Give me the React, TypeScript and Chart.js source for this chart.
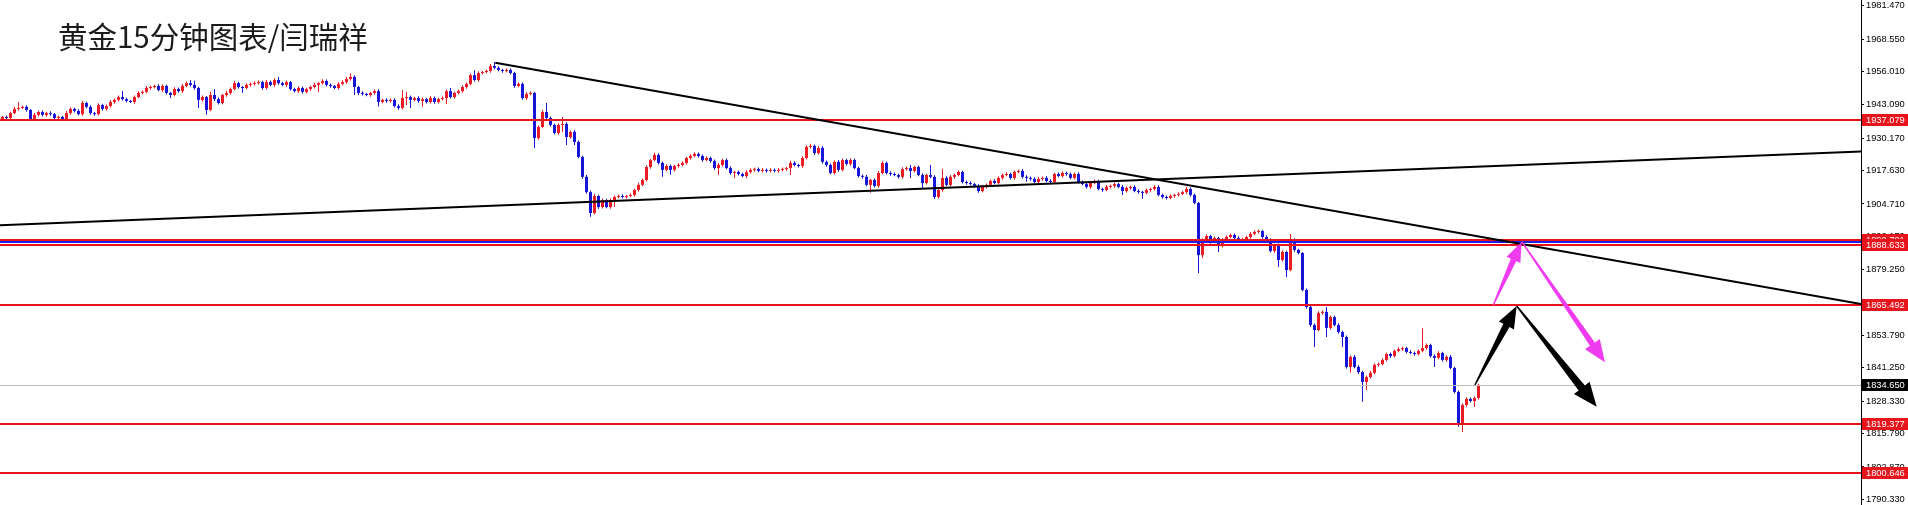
import React, { useEffect, useRef } from 'react';
import { Chart, registerables } from 'chart.js';

Chart.register(...registerables);

const TITLE = '黄金15分钟图表/闫瑞祥';

// ---- candle data (15-minute gold) ----
const FIRST_OPEN = 1937.6;
const CLOSES = [
  1938.4,1938.0,1939.9,1941.5,1941.9,1942.3,1941.1,1937.6,1939.2,1940.3,
  1939.2,1939.9,1939.5,1938.0,1938.4,1937.6,1939.9,1941.5,1940.7,1939.5,
  1943.8,1942.3,1939.9,1939.5,1943.0,1941.5,1942.6,1944.2,1945.0,1946.1,
  1945.3,1944.6,1944.2,1946.1,1947.7,1948.1,1949.6,1950.0,1950.4,1948.8,
  1950.4,1947.7,1946.9,1949.2,1948.4,1950.4,1951.5,1950.8,1949.6,1945.0,
  1946.1,1941.1,1946.9,1945.3,1943.8,1946.9,1947.7,1949.2,1951.5,1950.0,
  1949.6,1950.8,1951.2,1951.5,1951.9,1949.6,1951.9,1950.8,1952.7,1951.5,
  1950.8,1951.9,1949.2,1948.4,1949.6,1948.1,1949.2,1950.0,1950.8,1951.5,
  1952.3,1950.8,1950.4,1949.6,1951.2,1951.9,1953.1,1953.9,1950.0,1947.7,
  1947.3,1946.9,1947.7,1948.4,1944.2,1945.0,1944.6,1945.0,1942.6,1941.9,
  1945.7,1946.1,1945.0,1945.7,1944.6,1945.3,1944.2,1945.7,1944.2,1945.3,
  1945.7,1948.4,1946.1,1947.7,1948.4,1950.0,1951.2,1954.6,1952.7,1955.4,
  1955.8,1956.2,1958.1,1957.4,1956.6,1956.2,1956.6,1955.4,1950.4,1951.2,
  1945.7,1947.3,1947.7,1930.2,1934.5,1940.3,1938.0,1935.3,1932.2,1935.3,
  1935.7,1930.6,1932.6,1928.7,1922.9,1915.2,1909.3,1901.2,1907.8,1903.5,
  1906.2,1903.5,1906.2,1907.4,1907.8,1907.4,1907.8,1908.2,1910.1,1912.1,
  1914.0,1919.0,1921.7,1923.7,1920.6,1917.9,1919.4,1917.9,1919.4,1919.8,
  1920.6,1922.5,1923.3,1924.1,1923.3,1921.7,1922.5,1921.3,1918.6,1919.8,
  1921.7,1918.6,1916.7,1917.1,1916.3,1915.5,1917.1,1917.9,1918.2,1917.5,
  1917.9,1917.5,1917.9,1917.5,1917.9,1918.2,1918.6,1920.6,1919.8,1919.4,
  1922.5,1926.8,1927.2,1924.4,1926.4,1921.0,1919.8,1916.7,1921.0,1917.9,
  1921.7,1920.2,1921.7,1918.6,1915.5,1915.2,1912.1,1914.0,1911.7,1916.7,
  1920.6,1916.7,1916.3,1915.9,1915.2,1918.2,1918.6,1917.5,1919.0,1915.9,
  1912.8,1915.9,1915.2,1907.4,1910.1,1914.8,1912.1,1915.2,1915.9,1917.1,
  1913.2,1912.8,1912.4,1911.7,1909.7,1911.3,1912.1,1913.6,1912.8,1914.8,
  1915.9,1916.3,1914.8,1917.1,1917.5,1915.2,1914.8,1914.4,1913.2,1914.4,
  1914.8,1913.6,1913.2,1916.3,1915.5,1916.7,1916.3,1914.8,1916.3,1913.2,
  1912.4,1911.3,1912.8,1913.6,1910.5,1910.1,1911.3,1911.7,1912.4,1911.3,
  1909.7,1910.9,1911.3,1909.7,1909.3,1909.0,1910.1,1910.5,1911.3,1908.2,
  1907.4,1907.0,1907.8,1908.2,1908.6,1909.3,1910.5,1908.2,1905.1,1884.9,
  1890.8,1892.3,1890.0,1891.5,1888.4,1890.8,1891.9,1892.7,1891.5,1890.4,
  1891.1,1891.9,1893.1,1893.9,1894.2,1891.9,1890.8,1886.5,1888.8,1883.0,
  1886.1,1879.1,1890.8,1886.9,1885.7,1871.4,1864.8,1857.8,1855.9,1862.5,
  1862.9,1856.7,1860.9,1857.8,1855.1,1853.2,1841.6,1845.5,1841.6,1839.6,
  1835.8,1837.7,1839.3,1842.4,1842.7,1844.3,1846.6,1845.8,1847.8,1848.5,
  1848.9,1847.4,1847.0,1846.6,1847.8,1848.9,1850.1,1845.8,1845.1,1847.0,
  1844.3,1845.5,1841.2,1831.9,1819.9,1826.9,1829.2,1828.4,1829.6,1834.65,
];
const UPPER_WICKS = [
  0.4,0.6,0.5,0.8,2.3,0.5,0.6,0.4,0.7,0.5,
  0.6,0.5,0.7,0.4,0.6,0.5,0.8,0.6,0.5,0.7,
  0.9,0.5,0.6,0.4,0.7,0.5,0.6,0.8,0.5,0.6,
  2.3,0.5,0.4,0.6,0.7,0.5,0.8,0.6,0.5,0.7,
  0.6,0.5,0.4,0.7,0.6,0.8,0.5,1.2,1.6,0.5,
  0.6,0.4,1.3,2.3,0.6,0.5,0.7,0.6,0.8,0.5,
  0.3,0.6,0.5,0.7,0.6,0.5,0.8,0.6,0.7,1.2,
  0.5,0.6,0.4,0.5,0.7,0.6,0.5,0.6,0.8,0.4,
  0.7,0.6,0.5,0.4,0.6,0.7,0.9,1.4,0.6,0.5,
  0.6,0.5,0.4,0.6,0.7,0.5,0.6,0.5,0.6,0.7,
  3.1,2.1,0.6,0.5,0.7,0.6,0.5,0.8,0.6,0.5,
  0.7,0.6,1.2,0.5,0.6,0.7,0.5,0.6,1.9,0.7,
  0.5,0.6,0.8,1.5,0.6,0.5,0.7,0.6,0.5,0.6,
  0.5,0.7,0.6,0.5,0.6,0.8,3.5,0.6,0.5,0.7,
  2.7,0.6,0.5,0.7,0.6,0.5,0.7,0.6,0.8,0.5,
  0.6,0.5,0.7,0.6,0.5,0.7,0.4,0.6,0.5,0.8,
  0.6,0.7,0.5,0.8,0.6,0.5,0.7,0.6,0.5,0.7,
  0.6,0.5,0.7,0.6,0.5,0.6,0.7,0.5,0.6,0.8,
  0.5,0.6,0.7,0.5,0.6,0.5,0.7,0.6,0.5,0.6,
  0.7,0.5,0.6,0.5,0.7,0.6,0.5,0.8,0.6,0.5,
  0.7,0.6,0.8,0.5,0.6,0.7,0.5,0.6,0.5,0.7,
  0.6,0.5,0.7,0.6,0.5,0.6,0.7,0.5,0.6,0.8,
  0.6,0.5,0.7,0.6,0.5,0.7,0.6,1.2,0.5,0.6,
  0.7,0.5,3.9,0.6,0.5,3.5,0.6,0.7,0.5,0.6,
  0.5,0.6,0.7,0.5,0.6,0.7,0.5,0.6,0.8,0.5,
  0.6,0.7,0.5,0.6,0.5,0.7,0.6,0.5,0.6,0.7,
  0.5,0.6,0.7,0.5,0.6,0.7,0.5,0.6,0.5,0.7,
  0.6,0.5,0.7,0.6,0.5,0.6,0.7,0.5,0.6,0.5,
  0.7,0.6,0.5,0.6,0.7,0.5,0.6,0.5,0.7,0.6,
  0.5,0.6,0.7,0.5,0.6,0.5,0.8,0.6,0.5,0.4,
  0.6,0.7,0.5,0.6,0.5,0.7,0.6,0.5,0.6,0.7,
  0.5,0.6,0.7,0.5,0.6,0.5,0.7,0.6,0.5,0.6,
  0.7,0.5,2.3,0.6,0.5,0.4,0.6,0.5,0.6,0.7,
  0.6,1.9,0.5,0.6,0.7,0.5,0.6,0.5,0.7,0.6,
  0.5,0.6,0.7,0.5,0.6,0.7,0.5,0.6,0.5,0.7,
  0.6,0.5,0.7,0.6,0.5,7.7,0.6,0.5,0.6,0.7,
  0.5,0.6,0.7,0.5,0.6,0.5,0.7,0.6,0.5,0.4,
];
const LOWER_WICKS = [
  0.6,0.5,0.7,0.5,0.6,0.4,0.7,0.8,0.5,0.6,
  0.5,0.7,0.6,0.5,0.7,0.6,0.5,0.7,0.6,0.5,
  0.6,0.5,0.7,0.6,0.5,0.7,0.6,0.5,0.7,0.6,
  0.5,0.6,0.4,0.7,0.5,0.6,0.5,0.7,0.6,0.5,
  0.7,0.6,1.2,0.5,0.6,0.7,0.5,0.6,0.7,3.1,
  0.6,1.9,0.5,0.7,0.6,0.5,0.7,0.6,0.5,0.6,
  1.8,0.5,0.7,0.6,0.5,0.7,0.6,0.5,0.7,0.6,
  0.5,0.7,0.6,0.5,0.7,0.6,0.5,0.7,0.6,2.7,
  0.5,0.6,0.7,0.5,0.6,0.5,0.7,0.6,3.1,0.8,
  0.6,0.5,0.7,0.6,1.8,0.5,0.7,0.6,0.5,0.7,
  0.6,2.7,3.1,0.5,0.7,2.3,0.6,0.5,0.7,0.6,
  0.5,2.3,0.6,0.7,0.5,0.6,0.7,0.5,0.6,0.7,
  0.5,0.6,0.7,0.5,0.6,0.7,0.5,0.6,0.7,0.5,
  0.6,0.7,0.5,3.9,0.6,0.5,0.7,0.6,0.5,0.7,
  2.7,3.1,0.6,1.2,0.5,0.7,0.6,1.5,0.5,0.7,
  0.6,0.5,0.7,2.7,0.5,0.6,0.7,0.5,0.6,0.7,
  0.5,0.6,0.7,0.5,0.6,2.7,0.5,1.9,0.6,0.7,
  0.5,0.6,0.7,0.5,0.6,0.7,0.5,0.6,0.7,2.7,
  0.6,0.5,0.7,1.9,0.6,0.5,0.8,0.6,0.7,0.5,
  0.6,0.7,0.5,0.6,0.7,0.5,0.6,2.7,0.5,0.6,
  0.7,0.5,0.6,0.7,0.5,0.6,0.7,0.5,0.6,0.7,
  0.5,0.6,0.7,0.5,0.6,0.7,0.5,3.1,0.6,0.7,
  0.5,0.6,0.7,0.5,0.6,0.7,0.5,2.7,0.6,0.5,
  2.3,0.6,0.5,0.8,0.6,0.7,0.5,0.6,0.7,0.5,
  0.6,0.7,0.5,0.6,0.7,0.5,0.6,0.7,0.5,0.6,
  0.7,0.5,0.6,0.7,0.5,0.6,1.5,0.7,0.5,0.6,
  0.7,0.5,0.6,0.7,0.5,0.6,0.7,0.5,0.6,0.7,
  0.5,0.6,0.7,0.5,0.6,0.7,0.5,0.6,0.7,0.5,
  1.5,0.6,0.7,0.5,0.6,2.3,0.5,0.7,0.6,0.5,
  0.7,0.6,0.5,0.7,0.6,0.5,0.7,0.6,0.5,7.0,
  1.2,0.6,0.7,0.5,2.3,0.6,0.7,0.5,0.6,0.7,
  0.5,0.6,0.7,0.5,0.6,0.7,0.5,0.6,0.7,2.7,
  0.6,2.7,0.5,0.7,0.6,0.5,0.7,0.6,6.6,0.5,
  0.7,3.5,0.6,0.5,0.7,3.9,0.6,2.3,0.5,0.7,
  7.7,3.1,0.6,0.5,0.7,0.6,0.5,0.7,0.6,0.5,
  0.7,0.6,0.5,0.7,0.6,0.5,0.7,0.6,3.5,0.5,
  0.6,0.7,0.5,0.6,1.5,3.5,0.7,0.6,2.3,0.6,
];

// ---- axis ticks and drawn objects ----
const Y_TICKS = [1981.47, 1968.55, 1956.01, 1943.09, 1930.17, 1917.63, 1904.71, 1892.17,
  1879.25, 1866.33, 1853.79, 1841.25, 1828.33, 1815.79, 1802.87, 1790.33];
const Y_MIN = 1788.13;
const Y_MAX = 1983.68;
const X_MIN = -0.625;
const X_MAX = 464.625;
const RED_LEVELS = [1937.079, 1890.791, 1888.633, 1865.492, 1819.377, 1800.646];
const BLUE_LEVEL = 1889.9;
const BID = 1834.65;
const TREND_ASC = [[-0.625, 1896.5], [464.625, 1925.0]];
const TREND_DESC = [[123.2, 1959.4], [464.625, 1866.0]];
const ARROW_POINTS = [
  [[372.7, 1865.6], [379.8, 1890.1]],
  [[379.8, 1890.1], [400.6, 1843.4]],
  [[368.1, 1834.6], [378.55, 1865.2]],
  [[378.55, 1865.2], [398.55, 1826.2]],
];
const ARROW_STYLES = [
  { color: '#f03cf0', shaft: 6, headLen: 20, headW: 15 },
  { color: '#f03cf0', shaft: 6, headLen: 22, headW: 18 },
  { color: '#000000', shaft: 7, headLen: 22, headW: 17 },
  { color: '#000000', shaft: 8, headLen: 24, headW: 20 },
];

const RED = '#ec1c24';
const BLUE = '#1616d8';
const LEVEL_RED = '#e8141c';
const AXIS_FONT = '9.3px "Liberation Sans"';

const OPENS = CLOSES.map((c, i) => (i === 0 ? FIRST_OPEN : CLOSES[i - 1]));
const HIGHS = CLOSES.map((c, i) => Math.max(OPENS[i], c) + UPPER_WICKS[i]);
const LOWS = CLOSES.map((c, i) => Math.min(OPENS[i], c) - LOWER_WICKS[i]);
const COLORS = CLOSES.map((c, i) => (c >= OPENS[i] ? RED : BLUE));

function drawArrow(ctx: CanvasRenderingContext2D, x0: number, y0: number, x1: number, y1: number, st: any) {
  const dx = x1 - x0, dy = y1 - y0;
  const len = Math.hypot(dx, dy);
  const ux = dx / len, uy = dy / len;
  const nx = -uy, ny = ux;
  const hx = x1 - ux * st.headLen, hy = y1 - uy * st.headLen;
  const b = 0.7;
  ctx.beginPath();
  ctx.moveTo(x0 + nx * b, y0 + ny * b);
  ctx.lineTo(hx + nx * st.shaft / 2, hy + ny * st.shaft / 2);
  ctx.lineTo(hx + nx * st.headW / 2, hy + ny * st.headW / 2);
  ctx.lineTo(x1, y1);
  ctx.lineTo(hx - nx * st.headW / 2, hy - ny * st.headW / 2);
  ctx.lineTo(hx - nx * st.shaft / 2, hy - ny * st.shaft / 2);
  ctx.lineTo(x0 - nx * b, y0 - ny * b);
  ctx.closePath();
  ctx.fillStyle = st.color;
  ctx.fill();
}

const overlayPlugin = {
  id: 'mt4overlay',
  afterDatasetsDraw(chart: any) {
    const { ctx, chartArea: a } = chart;
    const xs = chart.scales.x, ys = chart.scales.y;
    ctx.save();
    ctx.beginPath();
    ctx.rect(a.left, a.top, a.right - a.left, a.bottom - a.top);
    ctx.clip();
    // bid line
    const by = Math.round(ys.getPixelForValue(BID)) + 0.5;
    ctx.strokeStyle = '#c0c0c0';
    ctx.lineWidth = 1;
    ctx.beginPath(); ctx.moveTo(a.left, by); ctx.lineTo(a.right, by); ctx.stroke();
    // horizontal levels
    const hline = (v: number, color: string) => {
      const y = Math.round(ys.getPixelForValue(v));
      ctx.fillStyle = color;
      ctx.fillRect(a.left, y - 1, a.right - a.left, 2);
    };
    RED_LEVELS.forEach((v) => hline(v, LEVEL_RED));
    hline(BLUE_LEVEL, '#1e1ee8');
    // trend lines
    ctx.strokeStyle = '#000';
    ctx.lineWidth = 2;
    [TREND_ASC, TREND_DESC].forEach((ln) => {
      ctx.beginPath();
      ctx.moveTo(xs.getPixelForValue(ln[0][0]), ys.getPixelForValue(ln[0][1]));
      ctx.lineTo(xs.getPixelForValue(ln[1][0]), ys.getPixelForValue(ln[1][1]));
      ctx.stroke();
    });
    // arrows
    ARROW_POINTS.forEach((p, k) => {
      drawArrow(ctx,
        xs.getPixelForValue(p[0][0]), ys.getPixelForValue(p[0][1]),
        xs.getPixelForValue(p[1][0]), ys.getPixelForValue(p[1][1]), ARROW_STYLES[k]);
    });
    ctx.restore();
  },
  afterDraw(chart: any) {
    const { ctx, chartArea: a } = chart;
    const ys = chart.scales.y;
    ctx.save();
    const box = (v: number, bg: string) => {
      const y = Math.round(ys.getPixelForValue(v));
      ctx.fillStyle = bg;
      ctx.fillRect(a.right + 1, y - 6, chart.width - a.right - 1, 12);
      ctx.fillStyle = '#ffffff';
      ctx.font = AXIS_FONT;
      ctx.textBaseline = 'middle';
      ctx.textAlign = 'left';
      ctx.fillText(v.toFixed(3), a.right + 5, y + 0.5);
    };
    RED_LEVELS.forEach((v) => box(v, LEVEL_RED));
    box(BID, '#000000');
    // title
    ctx.fillStyle = '#1c1c1c';
    ctx.font = '29.5px "Noto Sans CJK SC"';
    ctx.textBaseline = 'middle';
    ctx.textAlign = 'left';
    ctx.fillText(TITLE, 58, 37);
    ctx.restore();
  },
};

export default function App() {
  const ref = useRef<HTMLCanvasElement>(null);
  useEffect(() => {
    document.body.style.margin = '0';
    const wickData = CLOSES.map((c, i) => ({ x: i, y: [LOWS[i], HIGHS[i]] }));
    const bodyData = CLOSES.map((c, i) => ({ x: i, y: [OPENS[i], c] }));
    const chart = new Chart(ref.current as HTMLCanvasElement, {
      type: 'bar',
      data: {
        datasets: [
          {
            data: wickData as any,
            backgroundColor: COLORS,
            grouped: false,
            barThickness: 1,
            maxBarThickness: 1,
            borderWidth: 0,
            inflateAmount: 0,
          } as any,
          {
            data: bodyData as any,
            backgroundColor: COLORS,
            grouped: false,
            barThickness: 3,
            maxBarThickness: 3,
            minBarLength: 1,
            borderWidth: 0,
            inflateAmount: 0,
          } as any,
        ],
      },
      options: {
        responsive: false,
        animation: false,
        events: [],
        layout: { padding: 0 },
        plugins: { legend: { display: false }, tooltip: { enabled: false }, title: { display: false } },
        scales: {
          x: { type: 'linear', display: false, min: X_MIN, max: X_MAX, offset: false, bounds: 'data' } as any,
          y: {
            type: 'linear',
            position: 'right',
            min: Y_MIN,
            max: Y_MAX,
            bounds: 'data',
            beginAtZero: false,
            border: { display: true, color: '#000', width: 1 },
            grid: { drawOnChartArea: false, drawTicks: true, tickLength: 3, color: '#000' },
            ticks: {
              autoSkip: false,
              padding: 2,
              color: '#000',
              font: { family: 'Liberation Sans', size: 9.3 },
              callback: (v: any) => Number(v).toFixed(3),
            },
            afterBuildTicks: (s: any) => { s.ticks = Y_TICKS.map((v) => ({ value: v })); },
            afterFit: (s: any) => { s.width = 47; s.paddingTop = 0; s.paddingBottom = 0; },
          } as any,
        },
      },
      plugins: [overlayPlugin],
    });
    return () => chart.destroy();
  }, []);
  return (
    <div style={{ width: 1908, height: 505, position: 'relative', background: '#fff' }}>
      <canvas ref={ref} width={1908} height={505} style={{ display: 'block', width: 1908, height: 505 }} />
    </div>
  );
}
